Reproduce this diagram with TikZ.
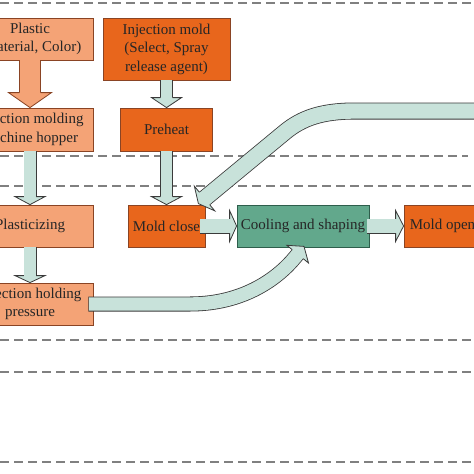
\documentclass[tikz,border=0pt]{standalone}
\usepackage{fontspec}
\setmainfont{Liberation Serif}
\usetikzlibrary{calc}

\definecolor{orangeL}{HTML}{F4A376}
\definecolor{orangeD}{HTML}{E8661C}
\definecolor{orangeedge}{HTML}{8A4424}
\definecolor{tealbox}{HTML}{62A88C}
\definecolor{tealedge}{HTML}{2E5E4C}
\definecolor{arrowfill}{HTML}{C8E2DA}
\definecolor{arrowedge}{HTML}{3A3A3A}
\definecolor{sepgray}{HTML}{808080}

% block arrow head: tip, point back along shaft, head half width, shaft half width, length, style
\newcommand\headto[6]{%
  \coordinate (hb) at ($(#1)!#5!(#2)$);
  \path[#6, draw=none] (#1) -- ($(hb)!#3!90:(#1)$) -- ($(hb)!#3!-90:(#1)$) -- cycle;
  \path[#6, fill=none] ($(hb)!#4!90:(#1)$) -- ($(hb)!#3!90:(#1)$) -- (#1)
    -- ($(hb)!#3!-90:(#1)$) -- ($(hb)!#4!-90:(#1)$);
}

\begin{document}
\begin{tikzpicture}[x=1pt, y=-1pt,
    every node/.style={font=\fontsize{15}{18.5}\selectfont, text=black!85, align=center, line width=0.8pt},
    lbox/.style={draw=orangeedge, fill=orangeL, minimum width=126pt, minimum height=42pt},
    dbox/.style={lbox, fill=orangeD},
    gbox/.style={lbox, draw=tealedge, fill=tealbox},
    shaft/.style={draw=arrowedge, line width=0.8pt, double=arrowfill, double distance=#1},
    shaft/.default=11.4pt,
    head/.style={fill=arrowfill, draw=arrowedge, line width=0.8pt},
    sep/.style={draw=sepgray, line width=1.2pt, dash pattern=on 9pt off 5pt}]

        \useasboundingbox (0,0) rectangle (474,474);
        \fill[white] (0,0) rectangle (474,474);
        \clip (0,0) rectangle (474,474);

        % separators
        \foreach \y in {3,186,340,372,462}
            \draw[sep] (0,\y) -- (474,\y);
        \draw[sep] (0,156) -- (468,156);

        % boxes
        \node[lbox] (plastic) at (30,39) {Plastic\\(Material, Color)};
        \node[lbox, minimum height=43pt] (hopper) at (30,129.5) {Injection molding\\machine hopper};
        \node[lbox] (plast) at (30,226) {Plasticizing};
        \node[lbox] (hold) at (30,304) {Injection holding\\pressure};

        \node[dbox, minimum width=127pt, minimum height=62pt] (mold) at (166.5,49) {Injection mold\\(Select, Spray\\release agent)};
        \node[dbox, minimum width=92pt, minimum height=43pt] (pre) at (166.5,129.5) {Preheat};
        \node[dbox, minimum width=77pt] (close) at (166.5,226) {Mold close};
        \node[gbox, minimum width=132pt] (cool) at (303,226) {Cooling and shaping};
        \node[dbox, minimum width=77pt] (open) at (442.5,226) {Mold open};

        % straight arrows
        \draw[shaft=20.6pt, draw=orangeedge, double=orangeL] (plastic.south) -- ($(hopper.north)!13pt!(plastic.south)$);
        \headto{hopper.north}{plastic.south}{21.5pt}{10.7pt}{15pt}{head, fill=orangeL, draw=orangeedge}

        \draw[shaft] (hopper.south) -- ($(plast.north)!6pt!(hopper.south)$);
        \headto{plast.north}{hopper.south}{15pt}{6.1pt}{8pt}{head}

        \draw[shaft] (plast.south) -- ($(hold.north)!5pt!(plast.south)$);
        \headto{hold.north}{plast.south}{15pt}{6.1pt}{7pt}{head}

        \draw[shaft] (mold.south) -- ($(pre.north)!8pt!(mold.south)$);
        \headto{pre.north}{mold.south}{15pt}{6.1pt}{10pt}{head}

        \draw[shaft] (pre.south) -- ($(close.north)!6pt!(pre.south)$);
        \headto{close.north}{pre.south}{15pt}{6.1pt}{8pt}{head}

        \draw[shaft=13.4pt, line cap=rect] ($(close.east)+(1.7,0)$) -- ($(cool.west)!12pt!(close.east)$);
        \headto{cool.west}{close.east}{15.5pt}{7.1pt}{7pt}{head}

        \draw[shaft=13.4pt, line cap=rect] ($(cool.east)+(4.7,0)$) -- ($(open.west)!12pt!(cool.east)$);
        \headto{open.west}{cool.east}{15.5pt}{7.1pt}{8pt}{head}

        % curved arrows
        \coordinate (ct) at ($(cool.south)+(1,-1)$);
        \coordinate (cb) at (279,277);
        \draw[shaft=13.4pt, line cap=rect] ($(hold.east)+(2.5,0)$) -- (190,304)
            .. controls (245,304) and (cb) .. ($(ct)!14pt!(cb)$);
        \headto{ct}{cb}{14pt}{7.1pt}{10pt}{head}

        \coordinate (ret) at (490,111);
        \coordinate (bt) at ($(close.north east)+(-7,-1)$);
        \coordinate (bb) at (285,132);
        \draw[shaft=15.4pt] (ret) -- (355,111) .. controls (322,111) and (302,118) .. (bb)
            -- ($(bt)!6pt!(bb)$);
        \headto{bt}{bb}{16pt}{8.1pt}{8pt}{head}
    \end{tikzpicture}
\end{document}
